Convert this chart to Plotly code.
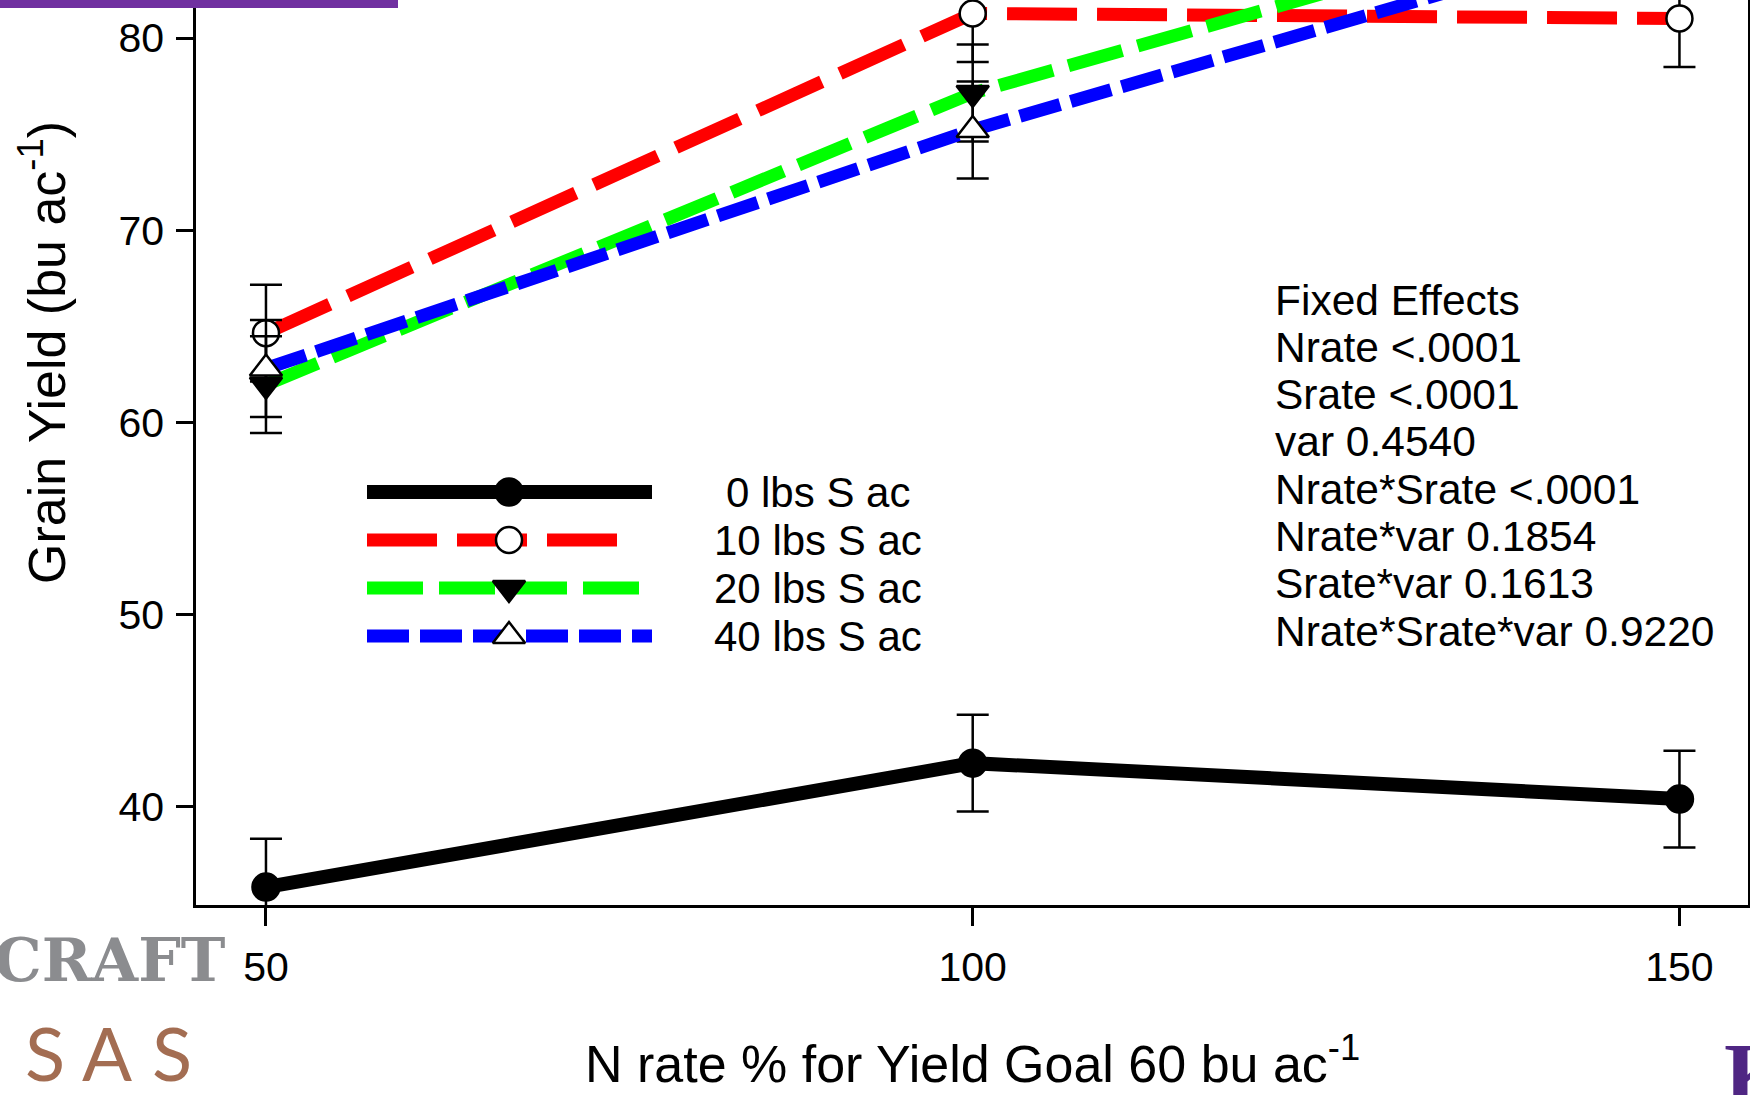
import plotly.graph_objects as go

# ---- data -------------------------------------------------------------
n_rate = [50, 100, 150]                      # N rate, % of yield goal
series_names = ["0 lbs S ac", "10 lbs S ac", "20 lbs S ac", "40 lbs S ac"]
yield_s0 = [35.83, 42.28, 40.41]
yield_s10 = [64.65, 81.28, 81.02]
yield_s20 = [61.97, 77.14, 87.6]
yield_s40 = [62.81, 75.22, 85.9]
std_err = [2.52, 2.52, 2.52]

y_ticks = [40, 50, 60, 70, 80]
x_ticks = [50, 100, 150]

fixed_effects = [
    "Fixed Effects",
    "Nrate <.0001",
    "Srate <.0001",
    "var 0.4540",
    "Nrate*Srate <.0001",
    "Nrate*var 0.1854",
    "Srate*var 0.1613",
    "Nrate*Srate*var 0.9220",
]

# ---- page geometry (pixels) ---------------------------------------------
W, H = 1750, 1095
L, R, T, B = 196, 2, 0, 190
PW, PH = W - L - R, H - T - B


def fx(px):
    return (px - L) / PW


def fy(py):
    return 1 - (py - T) / PH


FONT = "Liberation Sans, Arial, sans-serif"
SERIF = "Liberation Serif, Times New Roman, serif"

styles = [
    dict(color="#000000", width=14, dash="solid",
         symbol="circle", msize=27, mfill="#000000"),
    dict(color="#ff0000", width=13, dash="70px,20px",
         symbol="circle", msize=26, mfill="#ffffff"),
    dict(color="#00ff00", width=13, dash="56px,16px",
         symbol="triangle-down", msize=28, mfill="#000000"),
    dict(color="#0000ff", width=13, dash="42px,11px",
         symbol="triangle-up", msize=28, mfill="#ffffff"),
]
series_values = [yield_s0, yield_s10, yield_s20, yield_s40]

fig = go.Figure()

for name, vals, st in zip(series_names, series_values, styles):
    fig.add_trace(go.Scatter(
        x=n_rate, y=vals, name=name, mode="lines+markers",
        line=dict(color=st["color"], width=st["width"], dash=st["dash"]),
        marker=dict(symbol=st["symbol"], size=st["msize"], color=st["mfill"],
                    line=dict(color="#000000", width=2.5)),
        error_y=dict(type="data", array=std_err, visible=True,
                     color="#000000", thickness=2.5, width=16),
        showlegend=False,
    ))

# ---- hand-drawn key, on a pixel-unit overlay axis -----------------------
key_rows = [492, 540, 588, 636]
key_ends = [652, 618, 639, 652]
key_start, key_mark = 367, 509
for row, end, st in zip(key_rows, key_ends, styles):
    fig.add_trace(go.Scatter(
        x=[key_start, end], y=[row, row], mode="lines",
        line=dict(color=st["color"], width=st["width"], dash=st["dash"]),
        xaxis="x2", yaxis="y2", showlegend=False, hoverinfo="skip",
    ))
    fig.add_trace(go.Scatter(
        x=[key_mark], y=[row], mode="markers",
        marker=dict(symbol=st["symbol"], size=st["msize"], color=st["mfill"],
                    line=dict(color="#000000", width=2.5)),
        xaxis="x2", yaxis="y2", showlegend=False, hoverinfo="skip",
    ))

annotations = []
for row, name in zip(key_rows, series_names):
    annotations.append(dict(
        x=fx(818), y=fy(row), xref="paper", yref="paper",
        xanchor="center", yanchor="middle", text=name, showarrow=False,
        font=dict(family=FONT, size=42, color="#000000")))

for i, line in enumerate(fixed_effects):
    annotations.append(dict(
        x=fx(1273), y=fy(300 + 47.3 * i), xref="paper", yref="paper",
        xanchor="left", yanchor="middle", text=line, showarrow=False,
        font=dict(family=FONT, size=42.5, color="#000000")))

# axis titles
annotations.append(dict(
    x=fx(43), y=fy(353), xref="paper", yref="paper", textangle=-90,
    xanchor="center", yanchor="middle", showarrow=False,
    text="Grain Yield (bu ac<sup>-1</sup>)",
    font=dict(family=FONT, size=52, color="#000000")))
annotations.append(dict(
    x=fx(972), y=fy(1060), xref="paper", yref="paper",
    xanchor="center", yanchor="middle", showarrow=False,
    text="N rate % for Yield Goal 60 bu ac<sup>-1</sup>",
    font=dict(family=FONT, size=52, color="#000000")))

# slide branding
annotations.append(dict(
    x=fx(228), y=fy(960), xref="paper", yref="paper",
    xanchor="right", yanchor="middle", showarrow=False,
    text="<b>CRAFT</b>",
    font=dict(family="DejaVu Serif, serif", size=60, color="#8b8c8f")))
for cx, ch in zip([45, 107, 172], ["S", "A", "S"]):
    annotations.append(dict(
        x=fx(cx), y=fy(1052), xref="paper", yref="paper",
        xanchor="center", yanchor="middle", showarrow=False,
        text=ch, font=dict(family="Lato, Noto Sans, sans-serif", size=74,
                           color="#a36d52")))
annotations.append(dict(
    x=fx(1722), y=fy(1022), xref="paper", yref="paper",
    xanchor="left", yanchor="top", showarrow=False,
    text="<b>K</b>", font=dict(family=SERIF, size=92, color="#4f2683")))

fig.update_layout(
    width=W, height=H,
    margin=dict(l=L, r=R, t=T, b=B, pad=0),
    paper_bgcolor="#ffffff", plot_bgcolor="#ffffff",
    font=dict(family=FONT, color="#000000"),
    annotations=annotations,
    shapes=[dict(type="rect", xref="paper", yref="paper",
                 x0=fx(-5), x1=fx(398), y0=fy(8), y1=fy(-5),
                 fillcolor="#7030a0", line=dict(width=0), layer="above")],
    xaxis=dict(range=[45.05, 154.85], tickvals=x_ticks,
               ticks="outside", ticklen=18, tickwidth=2.5, tickcolor="#000000",
               ticklabelstandoff=6,
               showline=True, linewidth=2.5, linecolor="#000000",
               showgrid=False, zeroline=False,
               tickfont=dict(family=FONT, size=41, color="#000000")),
    yaxis=dict(range=[34.9, 81.98], tickvals=y_ticks,
               ticks="outside", ticklen=17, tickwidth=2.5, tickcolor="#000000",
               ticklabelstandoff=4,
               showline=True, mirror=True, linewidth=2.5, linecolor="#000000",
               showgrid=False, zeroline=False,
               tickfont=dict(family=FONT, size=41, color="#000000")),
    xaxis2=dict(range=[L, W - R], overlaying="x", anchor="y2", visible=False),
    yaxis2=dict(range=[T + PH, T], overlaying="y", anchor="x2", visible=False),
)

fig.write_html("out.html")
